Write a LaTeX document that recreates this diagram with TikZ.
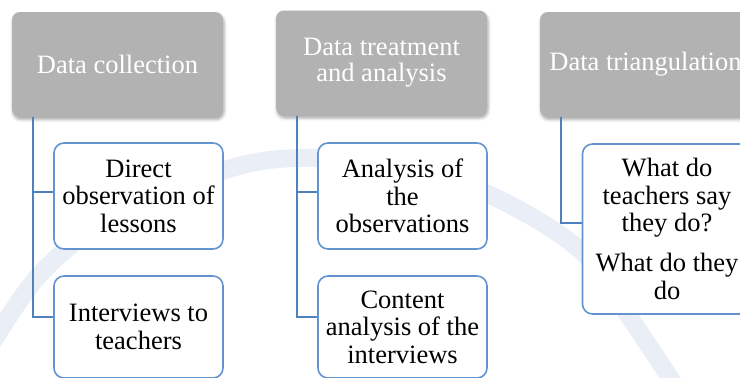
\documentclass[tikz,border=0pt]{standalone}
\usepackage{fontspec}
\setmainfont{Liberation Serif}
\usetikzlibrary{calc,shadows.blur}
\definecolor{hdrgray}{HTML}{B2B2B2}
\definecolor{linkblue}{HTML}{4F81BD}
\definecolor{boxblue}{HTML}{6394CF}
\definecolor{wmblue}{HTML}{E9EEF7}
\newcommand\dfont{\fontsize{26.5}{27.5}\selectfont}
\newcommand\hdfont{\fontsize{26.5}{26}\selectfont}
\begin{document}
\begin{tikzpicture}[x=1pt,y=-1pt,
  hdr/.style={fill=hdrgray, rounded corners=8pt, minimum width=211pt,
    minimum height=105pt, text=white, align=center, font=\hdfont, inner sep=0pt,
    blur shadow={shadow xshift=1pt, shadow yshift=-2.5pt, shadow blur radius=3pt, shadow opacity=35}},
  childbox/.style={draw=boxblue, line width=1.6pt, fill=white, rounded corners=10pt,
    minimum width=169pt, align=center, font=\dfont, inner sep=0pt},
  link/.style={draw=linkblue, line width=1.6pt}]
\useasboundingbox (0,0) rectangle (740,378);
\clip (0,0) rectangle (740,378);
% watermark
\draw[wmblue, line width=18pt, line cap=round] plot[smooth, tension=0.6] coordinates
  {(-12,350) (42,272) (120,212) (225,170) (300,158) (400,166) (490,195) (580,250) (630,318) (678,390)};
% headers
\node[hdr] (h1) at (117.5,64.5) {Data collection};
\node[hdr] (h2) at (381.5,63) {Data treatment\\and analysis};
\node[hdr] (h3) at (645.5,64.5) {Data triangulation};
% children
\node[childbox, minimum height=106pt] (c11) at (138.5,196) {Direct\\observation of\\lessons};
\node[childbox, minimum height=102pt] (c12) at (138.5,327) {Interviews to\\teachers};
\node[childbox, minimum height=106pt] (c21) at (402.5,196) {Analysis of\\the\\observations};
\node[childbox, minimum height=102pt] (c22) at (402.5,327) {Content\\analysis of the\\interviews};
\node[childbox, minimum height=170pt] (c3) at (667,229) {What do\\teachers say\\they do?\\[12.5pt]What do they\\do};
% connectors
\coordinate (v1) at ($(h1.south west)+(21,0)$);
\coordinate (v2) at ($(h2.south west)+(21,0)$);
\coordinate (v3) at ($(h3.south west)+(21,0)$);
\draw[link] (v1) |- ([yshift=4pt]c11.west);
\draw[link] (v1) |- ([yshift=10pt]c12.west);
\draw[link] (v2) |- ([yshift=4pt]c21.west);
\draw[link] (v2) |- ([yshift=10pt]c22.west);
\draw[link] (v3) |- ([yshift=6pt]c3.west);
\end{tikzpicture}
\end{document}
